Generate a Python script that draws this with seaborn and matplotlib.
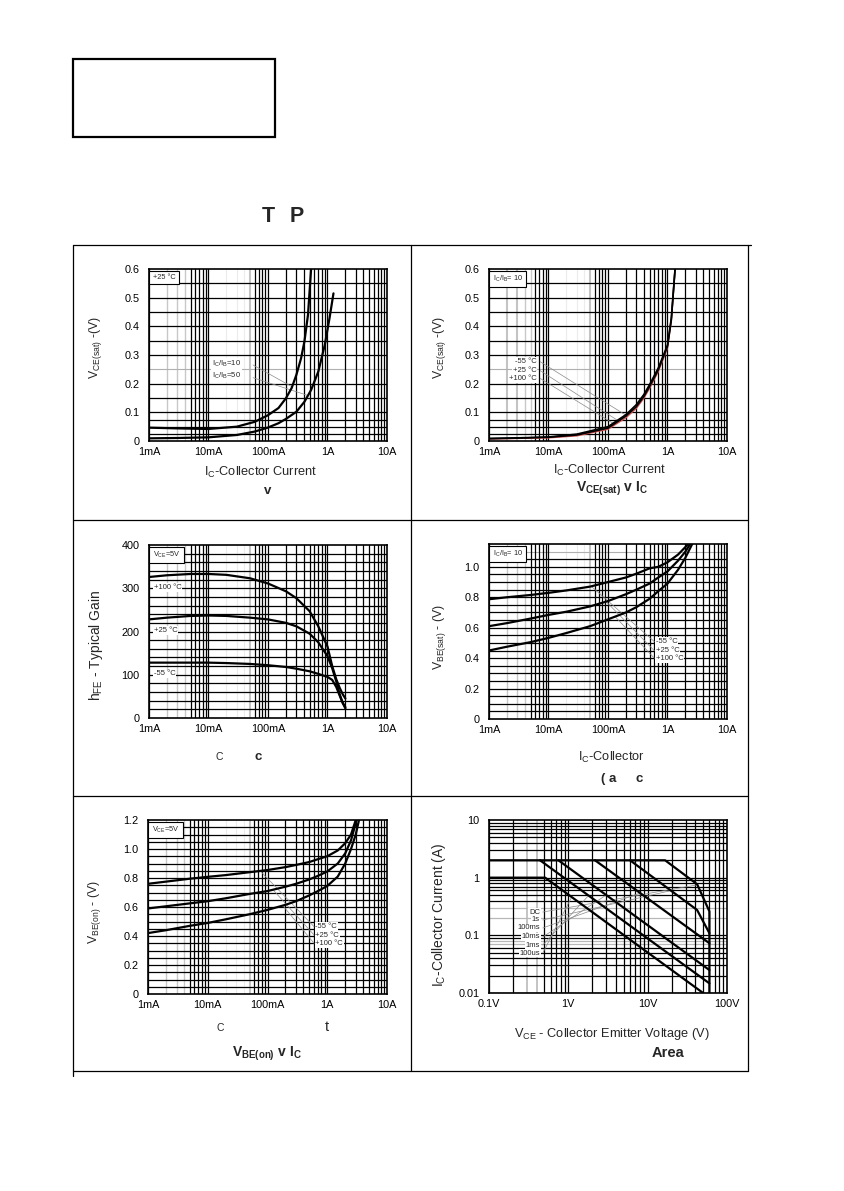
import numpy as np
import pandas as pd
import matplotlib
matplotlib.use('Agg')
import matplotlib.pyplot as plt
from matplotlib.lines import Line2D
from matplotlib.patches import Rectangle
from matplotlib.ticker import NullLocator
import seaborn as sns

# %%
# Values (Ic in A, voltages in V)

# VCE(sat) v Ic at +25C
ic_ib10 = [0.001, 0.003, 0.01, 0.03, 0.06, 0.1, 0.15, 0.2, 0.3, 0.41, 0.53, 0.7, 0.9, 1.08, 1.26]
vce_ib10 = [0.0093, 0.0105, 0.0128, 0.021, 0.033, 0.047, 0.062, 0.077, 0.102, 0.137, 0.178, 0.242, 0.335, 0.428, 0.515]
ic_ib50 = [0.001, 0.003, 0.01, 0.03, 0.06, 0.1, 0.15, 0.2, 0.25, 0.3, 0.36, 0.41, 0.47, 0.53]
vce_ib50 = [0.0465, 0.044, 0.042, 0.05, 0.067, 0.09, 0.115, 0.149, 0.185, 0.231, 0.289, 0.348, 0.44, 0.6]

# VCE(sat) v Ic, Ic/Ib=10, three temperatures
ic_sat = [0.001, 0.003, 0.01, 0.03, 0.1, 0.2, 0.3, 0.4, 0.5, 0.7, 1.0, 1.16, 1.34]
vce_m55 = [0.009, 0.011, 0.014, 0.024, 0.050, 0.092, 0.127, 0.162, 0.197, 0.255, 0.335, 0.430, 0.6]
vce_p25 = [0.008, 0.010, 0.013, 0.021, 0.045, 0.087, 0.120, 0.155, 0.190, 0.248, 0.330, 0.423, 0.6]
vce_p100 = [0.007, 0.009, 0.011, 0.018, 0.041, 0.081, 0.114, 0.149, 0.184, 0.242, 0.325, 0.418, 0.6]

# hFE v Ic, VCE=5V
ic_hfe = [0.001, 0.002, 0.005, 0.01, 0.02, 0.05, 0.1, 0.2, 0.3, 0.5, 0.7, 1.0, 1.2, 1.4, 1.6, 1.8, 2.0]
hfe_p100 = [326, 330, 333, 333, 331, 323, 311, 293, 277, 247, 212, 165, 120, 90, 70, 55, 45]
hfe_p25 = [228, 232, 236, 237, 236, 232, 228, 220, 212, 195, 175, 143, 115, 85, 55, 35, 22]
hfe_m55 = [128, 128, 128, 128, 127, 125, 122, 118, 114, 108, 102, 95, 88, 72, 52, 35, 25]

# VBE(sat) v Ic, Ic/Ib=10
ic_vbes = [0.001, 0.002, 0.005, 0.01, 0.02, 0.05, 0.1, 0.2, 0.3, 0.5, 0.7, 1.0, 1.5, 2.0]
vbes_m55 = [0.787, 0.80, 0.815, 0.829, 0.845, 0.87, 0.90, 0.93, 0.955, 0.99, 1.0, 1.03, 1.08, 1.13]
vbes_p25 = [0.61, 0.63, 0.66, 0.684, 0.705, 0.74, 0.775, 0.82, 0.85, 0.89, 0.93, 0.97, 1.04, 1.10]
vbes_p100 = [0.45, 0.475, 0.505, 0.533, 0.565, 0.61, 0.655, 0.70, 0.735, 0.79, 0.84, 0.89, 0.98, 1.06]
ic_vbes_end = [2.2, 2.4, 2.6]

# VBE(on) v Ic, VCE=5V
ic_vbeon = [0.001, 0.002, 0.005, 0.01, 0.02, 0.05, 0.1, 0.2, 0.3, 0.5, 0.7, 1.0, 1.5, 2.0, 2.5]
vbeon_m55 = [0.76, 0.775, 0.795, 0.808, 0.82, 0.84, 0.855, 0.875, 0.89, 0.91, 0.93, 0.95, 0.99, 1.04, 1.10]
vbeon_p25 = [0.59, 0.605, 0.625, 0.64, 0.66, 0.69, 0.71, 0.74, 0.76, 0.79, 0.815, 0.845, 0.90, 0.97, 1.06]
vbeon_p100 = [0.42, 0.44, 0.47, 0.49, 0.515, 0.55, 0.58, 0.615, 0.64, 0.68, 0.71, 0.745, 0.81, 0.90, 1.00]
ic_vbeon_end = [3.0, 3.1, 3.4]

# Safe operating area (VCE in V, Ic in A)
soa_vce = {
    'DC': [0.1, 0.51, 50],
    '1s': [0.44, 60],
    '100ms': [0.75, 60],
    '10ms': [2.17, 60],
    '1ms': [6.0, 42, 60],
    '100us': [0.1, 16.6, 42, 60, 60],
}
soa_ic = {
    'DC': [1, 1, 0.01],
    '1s': [2, 0.0147],
    '100ms': [2, 0.025],
    '10ms': [2, 0.073],
    '1ms': [2, 0.275, 0.109],
    '100us': [2, 2, 0.77, 0.26, 0.01],
}
soa_labels = ['DC', '1s', '100ms', '10ms', '1ms', '100us']

current_ticks = [1e-3, 1e-2, 1e-1, 1, 10]
current_labels = ['1mA', '10mA', '100mA', '1A', '10A']

# %%
sns.set_style('white')
plt.rcParams['font.family'] = ['Liberation Sans', 'DejaVu Sans']
plt.rcParams['mathtext.fontset'] = 'custom'
plt.rcParams['mathtext.rm'] = 'Liberation Sans'
plt.rcParams['mathtext.it'] = 'Liberation Sans:italic'
plt.rcParams['mathtext.bf'] = 'Liberation Sans:bold'

W, H = 845, 1191
fig = plt.figure(figsize=(W / 100, H / 100), dpi=100)
fig.patch.set_facecolor('white')


def fx(x):
    return x / W


def fy(y):
    return 1 - y / H


def add_ax(l, t, r, b):
    ax = fig.add_axes([fx(l), fy(b), (r - l) / W, (b - t) / H])
    for s in ax.spines.values():
        s.set_color('black')
        s.set_linewidth(1.2)
        s.set_zorder(4)
    ax.tick_params(length=0, labelsize=7.8, colors='black')
    return ax


def current_axis(ax, light=((0, 2), (0, 3), (0, 4)), mid=((1, 5),), faint=((1, 2), (1, 3), (1, 4))):
    ax.set_xscale('log')
    ax.set_xlim(1e-3, 10)
    ax.set_xticks(current_ticks, current_labels)
    ax.xaxis.set_minor_locator(NullLocator())
    ax.tick_params(axis='x', pad=4)
    ax.tick_params(axis='y', pad=7)
    for i, d in enumerate([1e-3, 1e-2, 1e-1, 1]):
        for m in range(1, 10):
            if (i, m) in light:
                ax.axvline(d * m, color='#c8c8c8', lw=1.0, zorder=0.5)
            elif (i, m) in mid:
                ax.axvline(d * m, color='#c4c4c4', lw=1.5, zorder=0.5)
            elif (i, m) in faint:
                ax.axvline(d * m, color='#ececec', lw=0.8, zorder=0.5)
            else:
                ax.axvline(d * m, color='black', lw=0.9, zorder=1)


def hgrid(ax, levels, gray=()):
    for v in levels:
        ax.axhline(v, color='black', lw=0.9, zorder=1)
    for v in gray:
        ax.axhline(v, color='#b0b0b0', lw=0.8, zorder=0.5)


def curve(ax, x, y, color='black', lw=1.6):
    df = pd.DataFrame({'x': x, 'y': y})
    sns.lineplot(data=df, x='x', y='y', ax=ax, color=color, lw=lw, sort=False,
                 estimator=None, zorder=3)
    ax.set_xlabel('')
    ax.set_ylabel('')


def corner_label(ax, s):
    ax.text(0.015, 0.972, s, transform=ax.transAxes, ha='left', va='top', fontsize=5.3,
            zorder=5, bbox=dict(boxstyle='square,pad=0.45', fc='white', ec='black', lw=0.8))


def small_label(ax, x, y, s, ha='left'):
    ax.text(x, y, s, transform=ax.transAxes, fontsize=5.5, ha=ha, va='center', zorder=5,
            bbox=dict(boxstyle='square,pad=0.1', fc='white', ec='none'))


def leader(ax, xy, xytext):
    ax.annotate('', xy=xy, xytext=xytext, textcoords='axes fraction',
                arrowprops=dict(arrowstyle='-', color='#8a8a8a', lw=0.5, shrinkA=0, shrinkB=0),
                zorder=2)


def ftext(x, y, s, **kw):
    kw.setdefault('ha', 'center')
    kw.setdefault('va', 'center')
    fig.text(fx(x), fy(y), s, **kw)


# %%
# Page frame
fig.add_artist(Rectangle((fx(73), fy(137)), (275 - 73) / W, (137 - 59) / H, fill=False,
                         ec='black', lw=1.6, transform=fig.transFigure))
ftext(268, 217, 'T', fontsize=15.5, fontweight='bold')
ftext(297, 217, 'P', fontsize=15.5, fontweight='bold')
frame = [((73, 245), (751, 245)), ((73, 245), (73, 1076)), ((411, 245), (411, 1071)),
         ((748, 245), (748, 1071)), ((73, 520), (748, 520)), ((73, 796), (748, 796)),
         ((73, 1071), (748, 1071))]
for (x0, y0), (x1, y1) in frame:
    fig.add_artist(Line2D([fx(x0), fx(x1)], [fy(y0), fy(y1)], color='black', lw=0.9,
                          transform=fig.transFigure))

# %%
# Panel 1: VCE(sat) v Ic, +25C
ax1 = add_ax(149, 269, 387, 441)
current_axis(ax1)
hgrid(ax1, [0.025, 0.05, 0.075, 0.1, 0.15, 0.2, 0.3, 0.35, 0.4, 0.45, 0.5, 0.55], gray=[0.25])
curve(ax1, ic_ib50, vce_ib50)
curve(ax1, ic_ib10, vce_ib10)
ax1.set_ylim(0, 0.6)
ax1.set_yticks(np.arange(0, 0.61, 0.1), ['0', '0.1', '0.2', '0.3', '0.4', '0.5', '0.6'])
corner_label(ax1, '+25 °C')
small_label(ax1, 0.265, 0.448, r'I$_\mathregular{C}$/I$_\mathregular{B}$=10')
small_label(ax1, 0.265, 0.378, r'I$_\mathregular{C}$/I$_\mathregular{B}$=50')
leader(ax1, (0.25, 0.19), (0.437, 0.442))
leader(ax1, (0.45, 0.16), (0.437, 0.368))
ftext(96, 348, r'V$_\mathregular{CE(sat)}$ -(V)', fontsize=8.8, rotation=90)
ftext(261, 472, r'I$_\mathregular{C}$-Collector Current', fontsize=9.2)
ftext(268, 491, 'v', fontsize=9.5, fontweight='bold')

# Panel 2: VCE(sat) v Ic, three temperatures
ax2 = add_ax(489, 269, 727, 441)
current_axis(ax2, light=((0, 4), (0, 5)), mid=((0, 2), (0, 3), (1, 5)))
hgrid(ax2, [0.025, 0.05, 0.075, 0.1, 0.15, 0.2, 0.3, 0.35, 0.4, 0.45, 0.5, 0.55], gray=[0.25])
curve(ax2, ic_sat, vce_p100, color='#d65050', lw=1.0)
curve(ax2, ic_sat, vce_m55, lw=1.2)
curve(ax2, ic_sat, vce_p25, lw=1.2)
ax2.set_ylim(0, 0.6)
ax2.set_yticks(np.arange(0, 0.61, 0.1), ['0', '0.1', '0.2', '0.3', '0.4', '0.5', '0.6'])
corner_label(ax2, r'I$_\mathregular{C}$/I$_\mathregular{B}$= 10')
for s, yy, tgt in [('-55 °C', 0.461, (0.2, 0.09)), ('+25 °C', 0.409, (0.15, 0.07)),
                   ('+100 °C', 0.364, (0.13, 0.058))]:
    small_label(ax2, 0.2, yy, s, ha='right')
    leader(ax2, tgt, (0.215, yy))
ftext(440, 348, r'V$_\mathregular{CE(sat)}$ -(V)', fontsize=8.8, rotation=90)
ftext(610, 470, r'I$_\mathregular{C}$-Collector Current', fontsize=9.2)
ftext(612, 489, r'V$_\mathregular{CE(sat)}$ v I$_\mathregular{C}$', fontsize=10, fontweight='bold')

# Panel 3: hFE v Ic
ax3 = add_ax(149, 545, 387, 718)
current_axis(ax3)
hgrid(ax3, np.arange(20, 400, 20))
curve(ax3, ic_hfe, hfe_p100)
curve(ax3, ic_hfe, hfe_p25)
curve(ax3, ic_hfe, hfe_m55)
ax3.set_ylim(0, 400)
ax3.set_yticks([0, 100, 200, 300, 400], ['0', '100', '200', '300', '400'])
corner_label(ax3, r'V$_\mathregular{CE}$=5V')
for s, yy in [('+100 °C', 0.755), ('+25 °C', 0.505), ('-55 °C', 0.255)]:
    small_label(ax3, 0.02, yy, s)
ftext(96, 645, r'h$_\mathregular{FE}$ - Typical Gain', fontsize=10, rotation=90)
ftext(219, 757, 'C', fontsize=7.5)
ftext(258, 757, 'c', fontsize=9.5, fontweight='bold')

# Panel 4: VBE(sat) v Ic
ax4 = add_ax(489, 544, 727, 719)
current_axis(ax4)
hgrid(ax4, [v for v in np.arange(0.05, 1.15, 0.05) if abs(v - 1.1) > 0.01], gray=[1.1])
curve(ax4, ic_vbes + ic_vbes_end[:1], vbes_m55 + [1.15])
curve(ax4, ic_vbes + ic_vbes_end[1:2], vbes_p25 + [1.15])
curve(ax4, ic_vbes + ic_vbes_end[2:], vbes_p100 + [1.15])
ax4.set_ylim(0, 1.15)
ax4.set_yticks([0, 0.2, 0.4, 0.6, 0.8, 1.0], ['0', '0.2', '0.4', '0.6', '0.8', '1.0'])
corner_label(ax4, r'I$_\mathregular{C}$/I$_\mathregular{B}$= 10')
for s, yy, tgt in [('-55 °C', 0.442, (0.053, 0.87)), ('+25 °C', 0.39, (0.094, 0.77)),
                   ('+100 °C', 0.347, (0.13, 0.675))]:
    small_label(ax4, 0.7, yy, s)
    leader(ax4, tgt, (0.695, yy))
ftext(440, 637, r'V$_\mathregular{BE(sat)}$ - (V)', fontsize=8.8, rotation=90)
ftext(611, 757, r'I$_\mathregular{C}$-Collector', fontsize=9.2)
ftext(601, 779, '( a', fontsize=9.5, fontweight='bold', ha='left')
ftext(639, 779, 'c', fontsize=9.5, fontweight='bold')

# Panel 5: VBE(on) v Ic
ax5 = add_ax(148, 820, 387, 994)
current_axis(ax5)
hgrid(ax5, np.arange(0.05, 1.2, 0.05))
curve(ax5, ic_vbeon + ic_vbeon_end[:1], vbeon_m55 + [1.2])
curve(ax5, ic_vbeon + ic_vbeon_end[1:2], vbeon_p25 + [1.2])
curve(ax5, ic_vbeon + [3.0] + ic_vbeon_end[2:], vbeon_p100 + [1.1, 1.2])
ax5.set_ylim(0, 1.2)
ax5.set_yticks([0, 0.2, 0.4, 0.6, 0.8, 1.0, 1.2], ['0', '0.2', '0.4', '0.6', '0.8', '1.0', '1.2'])
corner_label(ax5, r'V$_\mathregular{CE}$=5V')
for s, yy, tgt in [('-55 °C', 0.387, (0.075, 0.85)), ('+25 °C', 0.339, (0.126, 0.715)),
                   ('+100 °C', 0.291, (0.18, 0.61))]:
    small_label(ax5, 0.7, yy, s)
    leader(ax5, tgt, (0.695, yy))
ftext(95, 912, r'V$_\mathregular{BE(on)}$ - (V)', fontsize=8.8, rotation=90)
ftext(220, 1028, 'C', fontsize=7.5)
ftext(327, 1027, 't', fontsize=10.5)
ftext(267, 1054, r'V$_\mathregular{BE(on)}$ v I$_\mathregular{C}$', fontsize=10, fontweight='bold')

# Panel 6: Safe operating area
ax6 = add_ax(489, 820, 727, 993)
ax6.set_xscale('log')
ax6.set_yscale('log')
ax6.set_xlim(0.1, 100)
ax6.set_ylim(0.01, 10)
for i, d in enumerate([0.1, 1, 10]):
    for m in range(1, 10):
        if i == 0 and m in (3, 4):
            ax6.axvline(d * m, color='#c4c4c4', lw=1.4, zorder=0.5)
        else:
            ax6.axvline(d * m, color='black', lw=0.9, zorder=1)
for i, d in enumerate([0.01, 0.1, 1]):
    for m in range(1, 10):
        if (i, m) in ((1, 2), (1, 3), (0, 7), (0, 8)):
            ax6.axhline(d * m, color='#b8b8b8', lw=0.9, zorder=0.5)
        else:
            ax6.axhline(d * m, color='black', lw=0.9, zorder=1)
for k in soa_labels:
    curve(ax6, soa_vce[k], soa_ic[k], lw=1.6)
ax6.set_xticks([0.1, 1, 10, 100], ['0.1V', '1V', '10V', '100V'])
ax6.set_yticks([0.01, 0.1, 1, 10], ['0.01', '0.1', '1', '10'])
ax6.xaxis.set_minor_locator(NullLocator())
ax6.yaxis.set_minor_locator(NullLocator())
ax6.tick_params(axis='x', pad=4)
ax6.tick_params(axis='y', pad=7)
soa_targets = [(42, 0.75), (20, 0.6), (8, 0.54), (3, 0.5), (1.8, 0.49), (1.1, 0.46)]
for s, yy, tgt in zip(soa_labels, [0.468, 0.422, 0.376, 0.324, 0.277, 0.231], soa_targets):
    small_label(ax6, 0.214, yy, s, ha='right')
    leader(ax6, tgt, (0.226, yy))
ftext(439, 915, r'I$_\mathregular{C}$-Collector Current (A)', fontsize=10, rotation=90)
ftext(612, 1034, r'V$_\mathregular{CE}$ - Collector Emitter Voltage (V)', fontsize=9.2)
ftext(668, 1053, 'Area', fontsize=10.5, fontweight='bold')

fig.savefig('out.png', dpi=100, facecolor='white')
